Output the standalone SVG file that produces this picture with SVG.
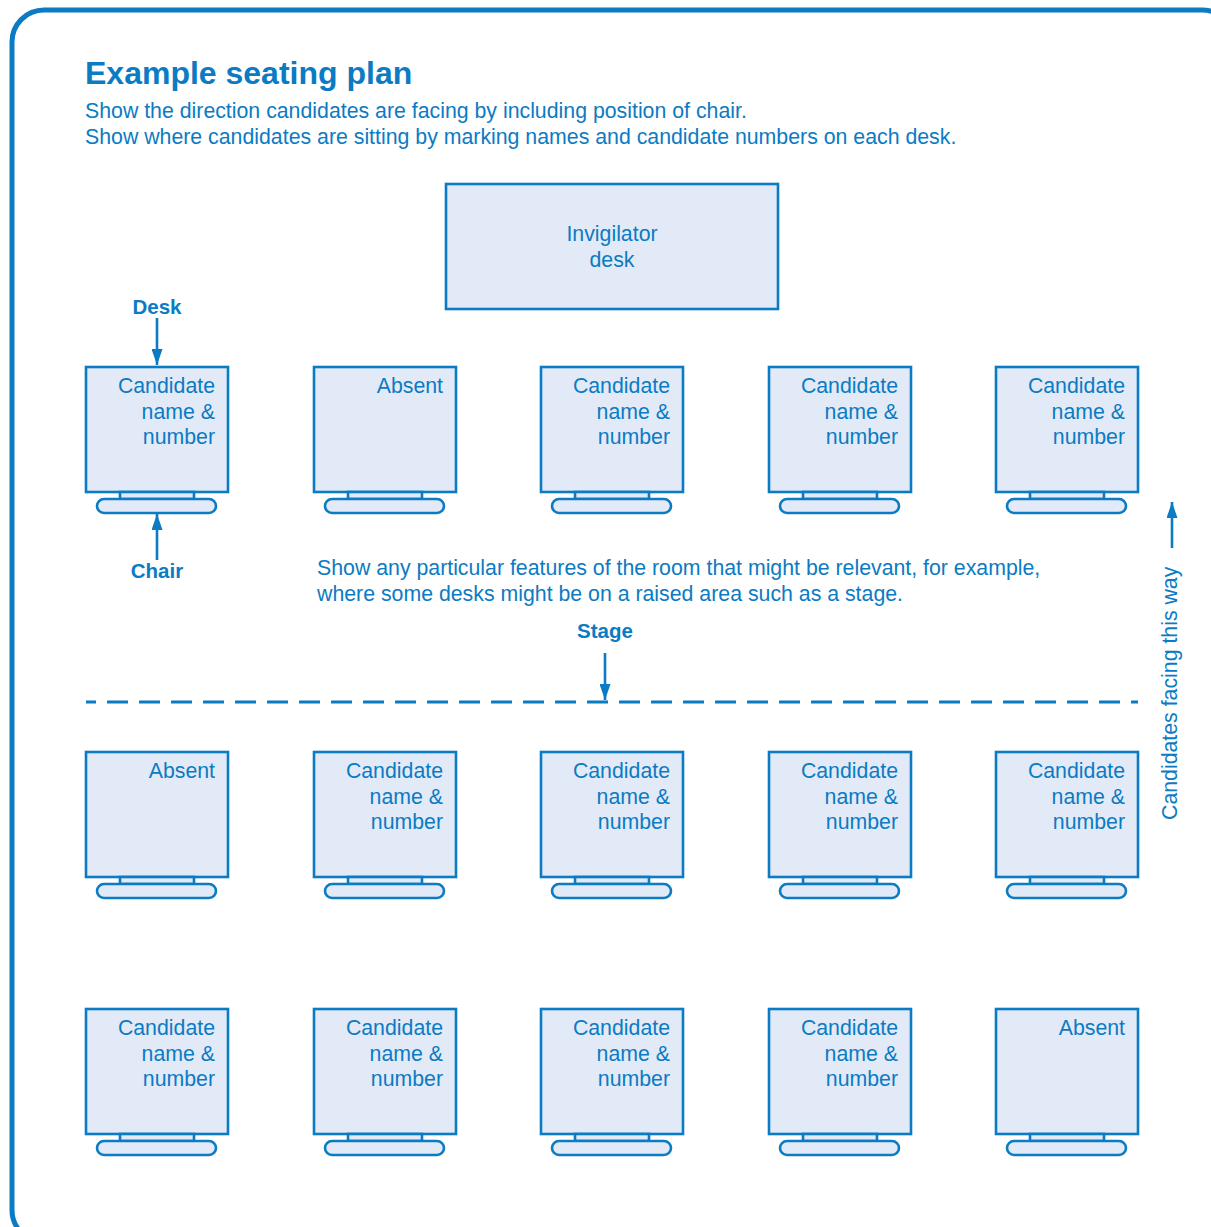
<svg xmlns="http://www.w3.org/2000/svg" width="1211" height="1227" viewBox="0 0 1211 1227">
<defs>
<style>
.frame{fill:none;stroke:#0b7bc3;stroke-width:5}
.box{fill:#e3eaf7;stroke:#0b7bc3;stroke-width:2.6}
.t{font-family:"Liberation Sans",Arial,sans-serif;fill:#0b7bc3;font-size:21.3px}
.b{font-weight:bold;font-size:20.5px}
.r{text-anchor:end}
.m{text-anchor:middle}
.line{stroke:#0b7bc3;stroke-width:2.6;fill:none}
.dash{stroke:#0b7bc3;stroke-width:3;fill:none;stroke-dasharray:21 11;stroke-dashoffset:11}
</style>
<marker id="ah" viewBox="0 0 16 11" refX="16" refY="5.5" markerWidth="16" markerHeight="11" markerUnits="userSpaceOnUse" orient="auto">
<path d="M0,0 L16,5.5 L0,11 z" fill="#0b7bc3"/>
</marker>
<g id="desk">
<rect class="box" x="0" y="0" width="142" height="125"/>
<rect class="box" x="34" y="125" width="74" height="7"/>
<rect class="box" x="11" y="132" width="119" height="14" rx="7"/>
</g>
</defs>
<rect class="frame" x="12" y="10" width="1222" height="1232" rx="32"/>
<g id="heading">
<text class="t" x="85" y="84" style="font-size:32px;font-weight:bold">Example seating plan</text>
<text class="t" x="85" y="118">Show the direction candidates are facing by including position of chair.</text>
<text class="t" x="85" y="144">Show where candidates are sitting by marking names and candidate numbers on each desk.</text>
</g>
<g id="invigilator-desk">
<rect class="box" x="446" y="184" width="332" height="125"/>
<text class="t m" x="612" y="241">Invigilator</text>
<text class="t m" x="612" y="267">desk</text>
</g>
<g id="r1c1" transform="translate(86,367)"><use href="#desk"/><text class="t r" x="129" y="26">Candidate</text><text class="t r" x="129" y="52">name &amp;</text><text class="t r" x="129" y="77">number</text></g>
<g id="r1c2" transform="translate(314,367)"><use href="#desk"/><text class="t r" x="129" y="26">Absent</text></g>
<g id="r1c3" transform="translate(541,367)"><use href="#desk"/><text class="t r" x="129" y="26">Candidate</text><text class="t r" x="129" y="52">name &amp;</text><text class="t r" x="129" y="77">number</text></g>
<g id="r1c4" transform="translate(769,367)"><use href="#desk"/><text class="t r" x="129" y="26">Candidate</text><text class="t r" x="129" y="52">name &amp;</text><text class="t r" x="129" y="77">number</text></g>
<g id="r1c5" transform="translate(996,367)"><use href="#desk"/><text class="t r" x="129" y="26">Candidate</text><text class="t r" x="129" y="52">name &amp;</text><text class="t r" x="129" y="77">number</text></g>
<g id="r2c1" transform="translate(86,752)"><use href="#desk"/><text class="t r" x="129" y="26">Absent</text></g>
<g id="r2c2" transform="translate(314,752)"><use href="#desk"/><text class="t r" x="129" y="26">Candidate</text><text class="t r" x="129" y="52">name &amp;</text><text class="t r" x="129" y="77">number</text></g>
<g id="r2c3" transform="translate(541,752)"><use href="#desk"/><text class="t r" x="129" y="26">Candidate</text><text class="t r" x="129" y="52">name &amp;</text><text class="t r" x="129" y="77">number</text></g>
<g id="r2c4" transform="translate(769,752)"><use href="#desk"/><text class="t r" x="129" y="26">Candidate</text><text class="t r" x="129" y="52">name &amp;</text><text class="t r" x="129" y="77">number</text></g>
<g id="r2c5" transform="translate(996,752)"><use href="#desk"/><text class="t r" x="129" y="26">Candidate</text><text class="t r" x="129" y="52">name &amp;</text><text class="t r" x="129" y="77">number</text></g>
<g id="r3c1" transform="translate(86,1009)"><use href="#desk"/><text class="t r" x="129" y="26">Candidate</text><text class="t r" x="129" y="52">name &amp;</text><text class="t r" x="129" y="77">number</text></g>
<g id="r3c2" transform="translate(314,1009)"><use href="#desk"/><text class="t r" x="129" y="26">Candidate</text><text class="t r" x="129" y="52">name &amp;</text><text class="t r" x="129" y="77">number</text></g>
<g id="r3c3" transform="translate(541,1009)"><use href="#desk"/><text class="t r" x="129" y="26">Candidate</text><text class="t r" x="129" y="52">name &amp;</text><text class="t r" x="129" y="77">number</text></g>
<g id="r3c4" transform="translate(769,1009)"><use href="#desk"/><text class="t r" x="129" y="26">Candidate</text><text class="t r" x="129" y="52">name &amp;</text><text class="t r" x="129" y="77">number</text></g>
<g id="r3c5" transform="translate(996,1009)"><use href="#desk"/><text class="t r" x="129" y="26">Absent</text></g>
<g id="labels">
<text class="t b m" x="157" y="314">Desk</text>
<text class="t b m" x="157" y="578">Chair</text>
<text class="t" x="317" y="575">Show any particular features of the room that might be relevant, for example,</text>
<text class="t" x="317" y="601">where some desks might be on a raised area such as a stage.</text>
<text class="t b m" x="605" y="638">Stage</text>
<text class="t" transform="translate(1177,820) rotate(-90)">Candidates facing this way</text>
</g>
<g id="connectors">
<line class="line" x1="157" y1="318" x2="157" y2="365" marker-end="url(#ah)"/>
<line class="line" x1="157" y1="560" x2="157" y2="514" marker-end="url(#ah)"/>
<line class="line" x1="605" y1="653" x2="605" y2="700" marker-end="url(#ah)"/>
<line class="line" x1="1172" y1="548" x2="1172" y2="502" marker-end="url(#ah)"/>
<line class="dash" x1="86" y1="702" x2="1138" y2="702"/>
</g>
</svg>
